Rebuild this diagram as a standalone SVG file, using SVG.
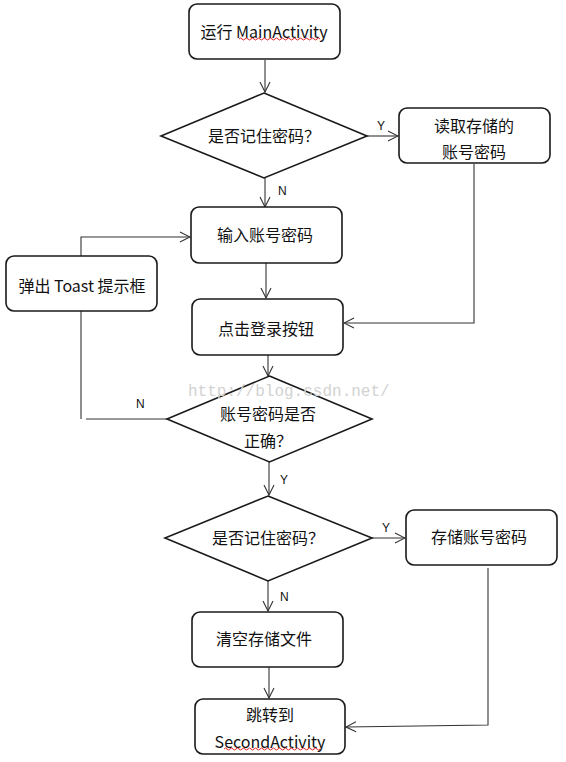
<svg xmlns="http://www.w3.org/2000/svg" width="566" height="762" viewBox="0 0 566 762">
<defs>
<style>
.box{fill:#fff;stroke:#1a1a1a;stroke-width:1.6}
.dia{fill:#fff;stroke:#1a1a1a;stroke-width:1.6}
.t{font-family:"Noto Sans CJK SC","Microsoft YaHei",sans-serif;font-size:16px;fill:#111;text-anchor:middle;dominant-baseline:central}
.lbl{font-family:"Liberation Sans",Arial,sans-serif;font-size:12px;fill:#111}
.c{fill:none;stroke:#333;stroke-width:1.1}
.sq{fill:none;stroke:#e02020;stroke-width:1}
.wm{font-family:"Liberation Mono","DejaVu Sans Mono",monospace;font-size:16px;fill:#d2d2d2}
</style>
<marker id="ah" viewBox="0 0 12 12" refX="11" refY="6" markerWidth="12" markerHeight="12" markerUnits="userSpaceOnUse" orient="auto">
<polyline points="1,1 11,6 1,11" fill="none" stroke="#333" stroke-width="1.1"/>
</marker>
</defs>
<rect width="566" height="762" fill="#fff"/>

<g id="connectors">
<line class="c" x1="265" y1="60" x2="265" y2="92" marker-end="url(#ah)"/>
<line class="c" x1="367" y1="136" x2="398" y2="136" marker-end="url(#ah)"/>
<line class="c" x1="265" y1="178" x2="265" y2="207" marker-end="url(#ah)"/>
<line class="c" x1="266" y1="263" x2="266" y2="298" marker-end="url(#ah)"/>
<polyline class="c" points="474,164 474,323 344,323" marker-end="url(#ah)"/>
<line class="c" x1="268" y1="355" x2="268" y2="376" marker-end="url(#ah)"/>
<line class="c" x1="167" y1="419" x2="86" y2="419"/>
<polyline class="c" points="81,419 81,237 190,237" marker-end="url(#ah)"/>
<line class="c" x1="269" y1="462" x2="269" y2="495" marker-end="url(#ah)"/>
<line class="c" x1="372" y1="538" x2="405" y2="538" marker-end="url(#ah)"/>
<line class="c" x1="268" y1="581" x2="268" y2="611" marker-end="url(#ah)"/>
<line class="c" x1="269" y1="667" x2="269" y2="698" marker-end="url(#ah)"/>
<polyline class="c" points="488,568 488,725 346,727" marker-end="url(#ah)"/>
<text class="lbl" x="377" y="130">Y</text>
<text class="lbl" x="278" y="195">N</text>
<text class="lbl" x="136" y="408">N</text>
<text class="lbl" x="280" y="484">Y</text>
<text class="lbl" x="382" y="532">Y</text>
<text class="lbl" x="280" y="601">N</text>
</g>

<g id="n1">
<rect class="box" x="189" y="4" width="151" height="55" rx="8"/>
<text class="t" x="264" y="31">运行 MainActivity</text>
<path class="sq" d="M239,39 q1.5,-2 3,0 t3,0 t3,0 t3,0 t3,0 t3,0 t3,0 t3,0 t3,0 t3,0 t3,0 t3,0 t3,0 t3,0 t3,0 t3,0 t3,0 t3,0 t3,0 t3,0 t3,0 t3,0 t3,0 t3,0 t3,0 t3,0 t3,0"/>
</g>

<g id="d1">
<polygon class="dia" points="264,93 367,136 264,178 161,136"/>
<text class="t" x="264" y="135">是否记住密码？</text>
</g>

<g id="n2">
<rect class="box" x="399" y="108" width="151" height="55" rx="8"/>
<text class="t" x="474" y="125">读取存储的</text>
<text class="t" x="474" y="151">账号密码</text>
</g>

<g id="n3">
<rect class="box" x="191" y="207" width="151" height="56" rx="8"/>
<text class="t" x="265" y="234">输入账号密码</text>
</g>

<g id="n4">
<rect class="box" x="6" y="256" width="151" height="55" rx="8"/>
<text class="t" x="82" y="285">弹出 Toast 提示框</text>
</g>

<g id="n5">
<rect class="box" x="192" y="299" width="151" height="56" rx="8"/>
<text class="t" x="266" y="328">点击登录按钮</text>
</g>

<g id="d2">
<polygon class="dia" points="269.5,376 372,419 269.5,462 167,419"/>
<text class="t" x="268" y="413">账号密码是否</text>
<text class="t" x="268" y="440">正确？</text>
</g>

<g id="d3">
<polygon class="dia" points="268,496 372,538 268,581 165,538"/>
<text class="t" x="268" y="537">是否记住密码？</text>
</g>

<g id="n6">
<rect class="box" x="406" y="510" width="151" height="55" rx="8"/>
<text class="t" x="479" y="536">存储账号密码</text>
</g>

<g id="n7">
<rect class="box" x="192" y="612" width="151" height="55" rx="8"/>
<text class="t" x="264" y="638">清空存储文件</text>
</g>

<g id="n8">
<rect class="box" x="195" y="699" width="150" height="55" rx="8"/>
<text class="t" x="270" y="714">跳转到</text>
<text class="t" x="270" y="741">SecondActivity</text>
<path class="sq" d="M224,749 q1.5,-2 3,0 t3,0 t3,0 t3,0 t3,0 t3,0 t3,0 t3,0 t3,0 t3,0 t3,0 t3,0 t3,0 t3,0 t3,0 t3,0 t3,0 t3,0 t3,0 t3,0 t3,0 t3,0 t3,0 t3,0 t3,0 t3,0 t3,0 t3,0 t3,0 t3,0 t3,0 t3,0"/>
</g>

<text class="wm" x="188" y="396">http://blog.csdn.net/</text>
</svg>
